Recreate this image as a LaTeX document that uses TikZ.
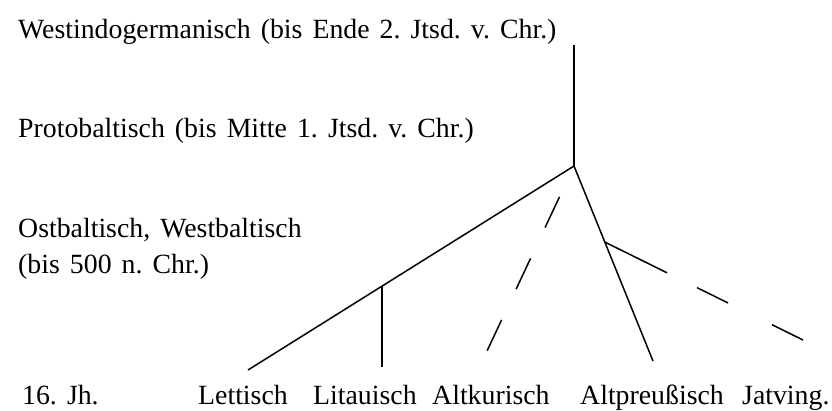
\documentclass[tikz,border=0pt]{standalone}
\usepackage{fontspec}
\setmainfont[WordSpace=1.45]{Liberation Serif}
\usetikzlibrary{calc}
\begin{document}
\frenchspacing
\begin{tikzpicture}[x=1pt,y=-1pt,
  lbl/.style={anchor=base west,inner sep=0pt,font=\fontsize{27.8}{32}\selectfont},
  branch/.style={line width=1.5pt,black},
  stem/.style={line width=1.1pt,black},
  dashbranch/.style={line width=1.5pt,black,dash pattern=on 34pt off 34pt,dash phase=34pt}]
\fill[white] (0,0) rectangle (832,410);
\useasboundingbox (0,0) rectangle (832,410);
% labels
\node[lbl] (wig) at (18,38) {Westindogermanisch (bis Ende 2. Jtsd. v. Chr.)};
\node[lbl] (pb) at (18,137) {Protobaltisch (bis Mitte 1. Jtsd. v. Chr.)};
\node[lbl] (owb) at (18,237) {Ostbaltisch, Westbaltisch};
\node[lbl] (owb2) at (18,273) {(bis 500 n. Chr.)};
\node[lbl] (jh) at (22,404) {16. Jh.};
\node[lbl] (lett) at (198,404) {Lettisch};
\node[lbl] (lit) at (313,404) {Litauisch};
\node[lbl] (kur) at (432,404) {Altkurisch};
\node[lbl] (pr) at (580,404) {Altpreußisch};
\node[lbl] (jat) at (742,404) {Jatving.};
% tree points
\coordinate (top) at (574,45);
\coordinate (apex) at (574,166);
\coordinate (lettE) at (248,370);
\coordinate (litE) at (382,367);
\coordinate (kurE) at (487,351);
\coordinate (prE) at (653,361);
\coordinate (jatE) at (803,340);
\coordinate (litJ) at ($(apex)!0.589!(lettE)$);
\coordinate (jatJ) at ($(apex)!0.39!(prE)$);
% lines
\draw[stem] (top) -- (apex);
\draw[branch] (apex) -- (lettE);
\draw[stem] (litE) -- (litE |- litJ);
\draw[dashbranch] (apex) -- (kurE);
\draw[branch] (apex) -- (prE);
\draw[branch] (jatJ) -- ($(jatJ)!0.314!(jatE)$);
\draw[branch] ($(jatJ)!0.465!(jatE)$) -- ($(jatJ)!0.622!(jatE)$);
\draw[branch] ($(jatJ)!0.844!(jatE)$) -- (jatE);
\end{tikzpicture}
\end{document}
